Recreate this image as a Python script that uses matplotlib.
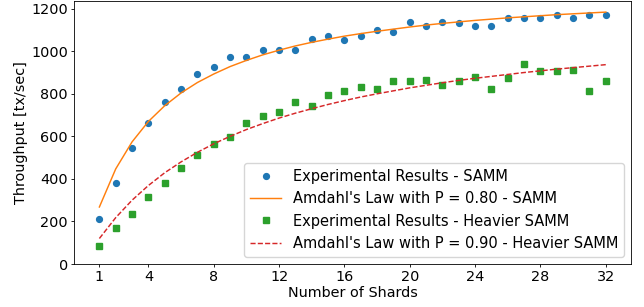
import matplotlib
matplotlib.use('Agg')
import matplotlib.pyplot as plt

# number of shards
shards = list(range(1, 33))

# measured throughput [tx/sec]
samm_exp = [213, 381, 547, 663, 760, 823, 892, 924, 974, 974, 1007, 1007, 1007,
            1057, 1074, 1055, 1071, 1101, 1090, 1137, 1121, 1139, 1134, 1121,
            1118, 1154, 1156, 1154, 1170, 1156, 1170, 1172]
heavy_exp = [83, 168, 235, 317, 381, 450, 511, 565, 596, 663, 695, 713, 762,
             743, 793, 811, 830, 822, 859, 861, 863, 842, 859, 877, 824, 875,
             941, 908, 908, 911, 811, 858]

# Amdahl's law curves
samm_amdahl = [268, 447, 574, 670, 744, 804, 853, 893, 928, 957, 983, 1005,
               1025, 1042, 1057, 1071, 1083, 1094, 1104, 1114, 1123, 1131,
               1138, 1145, 1151, 1157, 1162, 1167, 1172, 1176, 1180, 1184]
heavy_amdahl = [120, 218, 300, 369, 429, 480, 525, 565, 600, 632, 660, 686,
                709, 730, 750, 768, 785, 800, 814, 828, 840, 852, 863, 873,
                882, 891, 900, 908, 916, 923, 930, 937]

xticks = [1, 4, 8, 12, 16, 20, 24, 28, 32]

fs = 10.4

fig, ax = plt.subplots(figsize=(6.44, 3.07), dpi=100)
fig.subplots_adjust(left=0.115, right=0.98, top=0.998, bottom=0.14)

ax.plot(shards, samm_exp, 'o', color='tab:blue', markersize=4.2,
        label='Experimental Results - SAMM')
ax.plot(shards, samm_amdahl, '-', color='tab:orange', linewidth=1.05,
        label="Amdahl's Law with P = 0.80 - SAMM")
ax.plot(shards, heavy_exp, 's', color='tab:green', markersize=4.2,
        label='Experimental Results - Heavier SAMM')
ax.plot(shards, heavy_amdahl, '--', color='tab:red', linewidth=1.05,
        dashes=(3.5, 1.5), label="Amdahl's Law with P = 0.90 - Heavier SAMM")

for s in ax.spines.values():
    s.set_linewidth(0.6)

ax.set_xticks(xticks)
ax.set_ylim(0, 1238)
ax.tick_params(labelsize=fs, length=2.5, width=0.6, pad=1.8)
ax.set_xlabel('Number of Shards', fontsize=fs, labelpad=1.5)
ax.set_ylabel('Throughput [tx/sec]', fontsize=fs, labelpad=2.5)
ax.legend(loc='lower right', fontsize=10.5, handlelength=2.1)

fig.savefig('out.png')
